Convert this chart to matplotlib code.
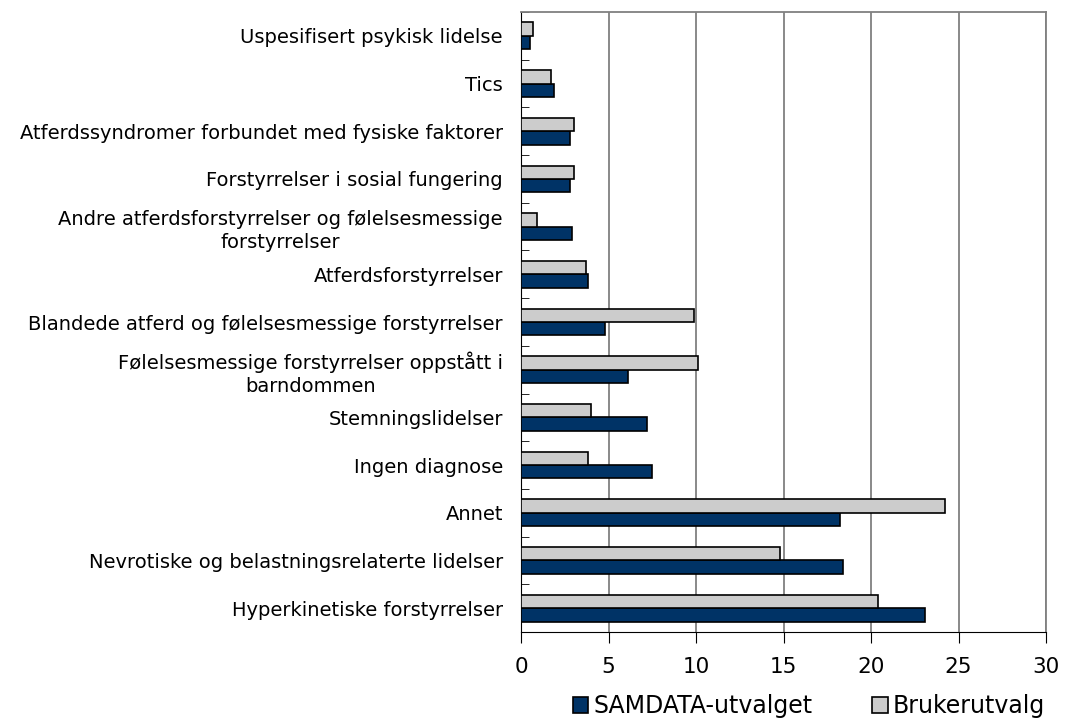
import matplotlib.pyplot as plt
import numpy as np

# categories from bottom to top
categories = [
    "Hyperkinetiske forstyrrelser",
    "Nevrotiske og belastningsrelaterte lidelser",
    "Annet",
    "Ingen diagnose",
    "Stemningslidelser",
    "Følelsesmessige forstyrrelser oppstått i\nbarndommen",
    "Blandede atferd og følelsesmessige forstyrrelser",
    "Atferdsforstyrrelser",
    "Andre atferdsforstyrrelser og følelsesmessige\nforstyrrelser",
    "Forstyrrelser i sosial fungering",
    "Atferdssyndromer forbundet med fysiske faktorer",
    "Tics",
    "Uspesifisert psykisk lidelse",
]
samdata = [23.1, 18.4, 18.2, 7.5, 7.2, 6.1, 4.8, 3.8, 2.9, 2.8, 2.8, 1.9, 0.5]
bruker = [20.4, 14.8, 24.2, 3.8, 4.0, 10.1, 9.9, 3.7, 0.9, 3.0, 3.0, 1.7, 0.7]
xticks = [0, 5, 10, 15, 20, 25, 30]

fig = plt.figure(figsize=(10.69, 7.18), dpi=100)
ax = fig.add_axes([521 / 1069, 1 - 632 / 718, 525 / 1069, 620 / 718])

y = np.arange(len(categories))
h = 0.28
ax.barh(y - h / 2, samdata, height=h, color="#003366", edgecolor="black", linewidth=1.2,
        label="SAMDATA-utvalget", zorder=3)
ax.barh(y + h / 2, bruker, height=h, color="#CCCCCC", edgecolor="black", linewidth=1.2,
        label="Brukerutvalg", zorder=3)

ax.set_xlim(0, 30)
ax.set_ylim(-0.5, len(categories) - 0.5)
ax.set_xticks(xticks)
ax.set_xticklabels([str(t) for t in xticks], fontsize=15.5)
ax.xaxis.grid(True, color="#808080", linewidth=1.3)
ax.set_axisbelow(True)

ax.set_yticks(y)
ax.set_yticklabels(categories, fontsize=14, multialignment="center", linespacing=1.3)
ax.set_yticks(np.arange(-0.5, len(categories), 1), minor=True)
ax.tick_params(axis="y", which="major", length=0, pad=13)
ax.tick_params(axis="y", which="minor", direction="in", length=6, color="black")
ax.tick_params(axis="x", direction="out", length=8, pad=10, color="black")

for s in ["top", "right"]:
    ax.spines[s].set_color("#808080")
    ax.spines[s].set_linewidth(1.3)
ax.spines["left"].set_color("black")
ax.spines["bottom"].set_color("black")

fig.legend(loc="center left", bbox_to_anchor=(573 / 1069, 1 - 706 / 718), ncol=2, frameon=False,
           fontsize=17, handlelength=0.65, handleheight=0.65, handletextpad=0.2,
           columnspacing=2.55, borderpad=0, borderaxespad=0)

fig.savefig("out.png", dpi=100)
